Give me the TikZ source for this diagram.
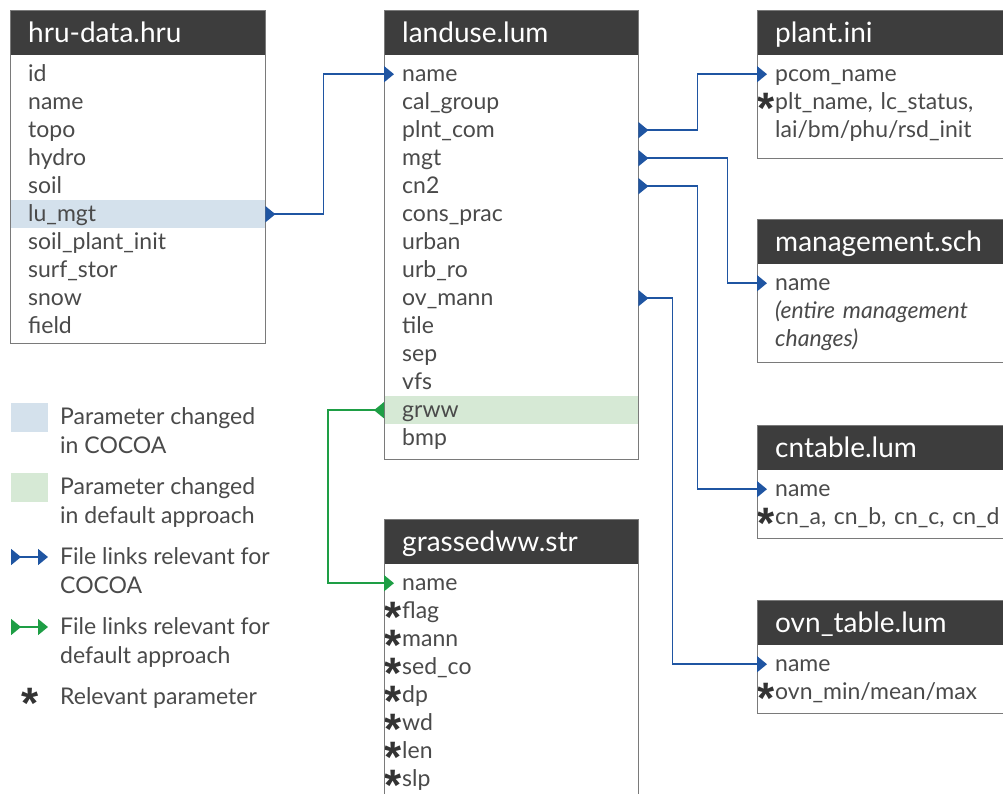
\documentclass[tikz,border=0pt]{standalone}
\usepackage{fontspec}
\setmainfont{Lato}
\newfontfamily\astfont{Liberation Sans}
\usetikzlibrary{arrows.meta}
\definecolor{hdrgray}{HTML}{3D3D3D}
\definecolor{framegray}{HTML}{7A7A7A}
\definecolor{txtgray}{HTML}{4A4A4A}
\definecolor{astgray}{HTML}{333333}
\definecolor{hlblue}{HTML}{D4E1EC}
\definecolor{hlgreen}{HTML}{D6E9D5}
\definecolor{linkblue}{HTML}{1F55A2}
\definecolor{linkgreen}{HTML}{1E9E45}
\newcommand\rowfont{\fontsize{23pt}{29pt}\selectfont}
\newcommand\hdrfont{\fontsize{28pt}{30pt}\selectfont}
\newcommand\astglyph{\raisebox{-14pt}{\color{astgray}\astfont\fontsize{44pt}{44pt}\selectfont\bfseries *}}
\newcommand\myast{\llap{\astglyph\kern0.5pt}}
\tikzset{
  hdr/.style={anchor=north west, fill=hdrgray, text=white, font=\hdrfont,
    minimum height=45pt, inner xsep=18pt, inner ysep=0pt,
    text height=24pt, text depth=5pt, align=left},
  rowbox/.style={anchor=north west, minimum height=28pt, inner xsep=18pt, inner ysep=0pt,
    text height=18pt, text depth=4pt, align=left, font=\rowfont, text=txtgray},
  framebox/.style={anchor=north west, draw=framegray, line width=1.4pt, inner sep=0pt},
  link/.style={line width=1.6pt, {Triangle[reversed,length=10pt,width=16pt]}-{Triangle[length=10pt,width=16pt]}},
  bluelink/.style={link, draw=linkblue},
  greenlink/.style={link, draw=linkgreen},
  legsq/.style={anchor=north west, minimum width=37pt, minimum height=29pt, inner sep=0pt},
  legtxt/.style={anchor=base west, inner sep=0pt, font=\rowfont, text=txtgray}
}
\begin{document}
\begin{tikzpicture}[x=1pt,y=-1pt]
\useasboundingbox (0,0) rectangle (1003,794);
\fill[white] (0,0) rectangle (1003,794);

% ---------------- hru-data.hru
\node[hdr, text width=219pt] (hruH) at (10,10) {hru-data.hru};
\foreach \t [count=\i] in {id,name,topo,hydro,soil,lu\_mgt,soil\_plant\_init,surf\_stor,snow,field}{
  \node[rowbox, text width=219pt] (h\i) at (10,{60+28*(\i-1)}) {\t};
}
\node[rowbox, text width=219pt, fill=hlblue] (h6) at (10,200) {lu\_mgt};
\node[framebox, minimum width=255pt, minimum height=333pt] (hruF) at (10,10) {};

% ---------------- landuse.lum
\node[hdr, text width=218pt] (luH) at (384,10) {landuse.lum};
\foreach \t [count=\i] in {name,cal\_group,plnt\_com,mgt,cn2,cons\_prac,urban,urb\_ro,ov\_mann,tile,sep,vfs,grww,bmp}{
  \node[rowbox, text width=218pt] (l\i) at (384,{60+28*(\i-1)}) {\t};
}
\node[rowbox, text width=218pt, fill=hlgreen] (l13) at (384,396) {grww};
\node[framebox, minimum width=254pt, minimum height=449pt] (luF) at (384,10) {};

% ---------------- plant.ini
\node[hdr, text width=264pt] (plH) at (757,10) {plant.ini};
\node[rowbox, text width=264pt] (p1) at (757,60) {pcom\_name};
\node[rowbox, text width=264pt] (p2) at (757,88) {\myast plt\_name, lc\_status,};
\node[rowbox, text width=264pt] (p3) at (757,116) {lai/bm/phu/rsd\_init};
\node[framebox, minimum width=300pt, minimum height=148pt] (plF) at (757,10) {};

% ---------------- management.sch
\node[hdr, text width=264pt] (msH) at (757,219) {management.sch};
\node[rowbox, text width=264pt] (m1) at (757,269) {name};
\node[rowbox, text width=264pt] (m2) at (757,297) {\itshape (entire management};
\node[rowbox, text width=264pt] (m3) at (757,325) {\itshape changes)};
\node[framebox, minimum width=300pt, minimum height=143pt] (msF) at (757,219) {};

% ---------------- cntable.lum
\node[hdr, text width=264pt] (cnH) at (757,425) {cntable.lum};
\node[rowbox, text width=264pt] (c1) at (757,475) {name};
\node[rowbox, text width=264pt] (c2) at (757,503) {\myast cn\_a, cn\_b, cn\_c, cn\_d};
\node[framebox, minimum width=300pt, minimum height=113pt] (cnF) at (757,425) {};

% ---------------- ovn_table.lum
\node[hdr, text width=264pt] (ovH) at (757,600) {ovn\_table.lum};
\node[rowbox, text width=264pt] (o1) at (757,650) {name};
\node[rowbox, text width=264pt] (o2) at (757,678) {\myast ovn\_min/mean/max};
\node[framebox, minimum width=300pt, minimum height=113pt] (ovF) at (757,600) {};

% ---------------- grassedww.str
\node[hdr, text width=218pt] (gwH) at (384,519) {grassedww.str};
\node[rowbox, text width=218pt] (g1) at (384,569) {name};
\foreach \t [count=\i from 2] in {flag,mann,sed\_co,dp,wd,len,slp}{
  \node[rowbox, text width=218pt] (g\i) at (384,{569+28*(\i-1)}) {\myast\t};
}
\node[framebox, minimum width=254pt, minimum height=300pt] (gwF) at (384,519) {};

% ---------------- links
\draw[bluelink] (h6.east) -- ++(58,0) |- ([xshift=10pt]l1.west);
\draw[bluelink] (l3.east) -- ++(59,0) |- ([xshift=10pt]p1.west);
\draw[bluelink] (l4.east) -- ++(89,0) |- ([xshift=10pt]m1.west);
\draw[bluelink] (l5.east) -- ++(59,0) |- ([xshift=10pt]c1.west);
\draw[bluelink] (l9.east) -- ++(34,0) |- ([xshift=10pt]o1.west);
\draw[greenlink] (l13.west) -- ++(-56,0) |- ([xshift=10pt]g1.west);

% ---------------- legend
\node[legsq, fill=hlblue] (lg1) at (11,403) {};
\node[legtxt] (lt1a) at (60,424) {Parameter changed};
\node[legtxt] (lt1b) at (60,453) {in COCOA};
\node[legsq, fill=hlgreen] (lg2) at (11,473) {};
\node[legtxt] (lt2a) at (60,494) {Parameter changed};
\node[legtxt] (lt2b) at (60,523) {in default approach};
\coordinate (la1s) at (11,557);
\coordinate (la1e) at (48,557);
\draw[bluelink] (la1s) -- (la1e);
\node[legtxt] (lt3a) at (60,564) {File links relevant for};
\node[legtxt] (lt3b) at (60,593) {COCOA};
\coordinate (la2s) at (11,627);
\coordinate (la2e) at (48,627);
\draw[greenlink] (la2s) -- (la2e);
\node[legtxt] (lt4a) at (60,634) {File links relevant for};
\node[legtxt] (lt4b) at (60,663) {default approach};
\node[legtxt] (last) at (21,704) {\astglyph};
\node[legtxt] (lt5) at (60,704) {Relevant parameter};
\end{tikzpicture}
\end{document}
